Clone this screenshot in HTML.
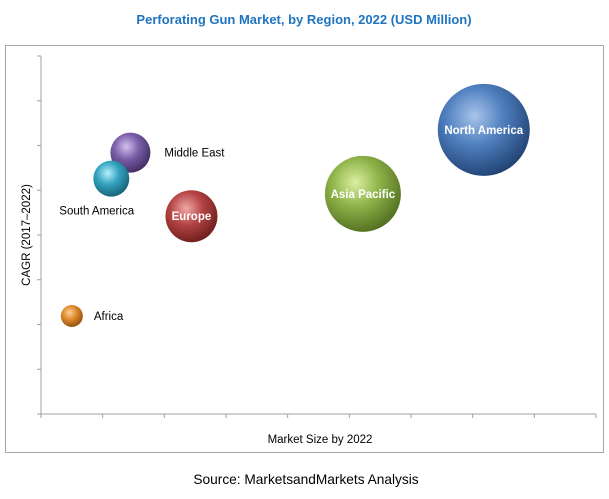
<!DOCTYPE html>
<html><head><meta charset="utf-8"><style>
body{margin:0;background:#fff;}
svg{display:block;font-family:"Liberation Sans",sans-serif;}
</style></head><body>
<svg id="chart" width="609" height="499">
<defs>
<radialGradient id="g0" cx="0.4" cy="0.35" r="0.7"><stop offset="0" stop-color="#a9c4ea"/><stop offset="0.45" stop-color="#4f7fbf"/><stop offset="1" stop-color="#1e3f6e"/></radialGradient>
<radialGradient id="g1" cx="0.4" cy="0.35" r="0.7"><stop offset="0" stop-color="#dcefa0"/><stop offset="0.45" stop-color="#8fb34a"/><stop offset="1" stop-color="#4f6b1d"/></radialGradient>
<radialGradient id="g2" cx="0.4" cy="0.35" r="0.7"><stop offset="0" stop-color="#f0a8a8"/><stop offset="0.45" stop-color="#b54444"/><stop offset="1" stop-color="#6a1b1b"/></radialGradient>
<radialGradient id="g3" cx="0.4" cy="0.35" r="0.7"><stop offset="0" stop-color="#d2c0ee"/><stop offset="0.45" stop-color="#7b5ea8"/><stop offset="1" stop-color="#3e2a5e"/></radialGradient>
<radialGradient id="g4" cx="0.4" cy="0.35" r="0.7"><stop offset="0" stop-color="#b6f0fb"/><stop offset="0.45" stop-color="#33a3c0"/><stop offset="1" stop-color="#155d72"/></radialGradient>
<radialGradient id="g5" cx="0.4" cy="0.35" r="0.7"><stop offset="0" stop-color="#fcd39a"/><stop offset="0.45" stop-color="#e08a2c"/><stop offset="1" stop-color="#8a4c0e"/></radialGradient>
</defs>
<text x="304" y="24" text-anchor="middle" font-size="13" font-weight="bold" fill="#1f74bf">Perforating Gun Market, by Region, 2022 (USD Million)</text>
<rect x="5.5" y="45.5" width="598" height="407" fill="none" stroke="#a6a6a6"/>
<g id="axes"></g>
<g id="bubbles"></g>
<text x="320" y="443" text-anchor="middle" font-size="11.5" fill="#000">Market Size by 2022</text>
<text transform="translate(30,235) rotate(-90)" text-anchor="middle" font-size="11.5" fill="#000">CAGR (2017–2022)</text>
<text x="306" y="484" text-anchor="middle" font-size="13.7" fill="#000">Source: MarketsandMarkets Analysis</text>
</svg>
<script>
const regions=["North America","Asia Pacific","Europe","Middle East","South America","Africa"];
const marketSize=[7.18,5.22,2.44,1.45,1.14,0.5];
const cagr=[6.35,4.92,4.42,5.84,5.26,2.19];
const bubbleSize=[2116,1444,676,400,324,121];
const xTicks=[0,1,2,3,4,5,6,7,8,9];
const yTicks=[0,1,2,3,4,5,6,7,8];
const labelInside=[true,true,true,false,false,false];
const NS="http://www.w3.org/2000/svg";
const X0=41,X1=596,Y0=414,Y1=56,XMAX=9,YMAX=8;
function xs(v){return X0+(X1-X0)*v/XMAX;}
function ys(v){return Y0-(Y0-Y1)*v/YMAX;}
function rs(v){return Math.sqrt(v);}
function mk(t,a){const e=document.createElementNS(NS,t);for(const k in a)e.setAttribute(k,a[k]);return e;}
const ax=document.getElementById('axes');
let l=mk('line',{x1:X0,y1:Y1,x2:X0,y2:Y0,stroke:'#a0a0a0'});


ax.appendChild(l);
l=mk('line',{x1:X0-3,y1:Y0,x2:X1,y2:Y0,stroke:'#a0a0a0'});


ax.appendChild(l);
xTicks.forEach(t=>{const e=mk('line',{x1:xs(t),y1:Y0,x2:xs(t),y2:Y0+4,stroke:'#a0a0a0'});


ax.appendChild(e);});
yTicks.forEach(t=>{const e=mk('line',{x1:X0-4,y1:ys(t),x2:X0,y2:ys(t),stroke:'#a0a0a0'});


ax.appendChild(e);});
const bg=document.getElementById('bubbles');
const offs=[[0,0],[0,0],[0,0],[34,4],[-52,36],[22,4]];
regions.forEach((r,i)=>{
const cx=xs(marketSize[i]),cy=ys(cagr[i]),rad=rs(bubbleSize[i]);
const c=mk('circle',{cx:cx,cy:cy,r:rad,fill:'url(#g'+i+')'});


bg.appendChild(c);
const t=mk('text',{'font-size':'11.5'});
if(labelInside[i]){t.setAttribute('x',cx);t.setAttribute('y',cy+4);t.setAttribute('text-anchor','middle');t.setAttribute('fill','#fff');t.setAttribute('font-weight','bold');}
else{t.setAttribute('x',cx+offs[i][0]);t.setAttribute('y',cy+offs[i][1]);t.setAttribute('fill','#000');}
t.textContent=r;


bg.appendChild(t);
});
</script>
</body></html>
